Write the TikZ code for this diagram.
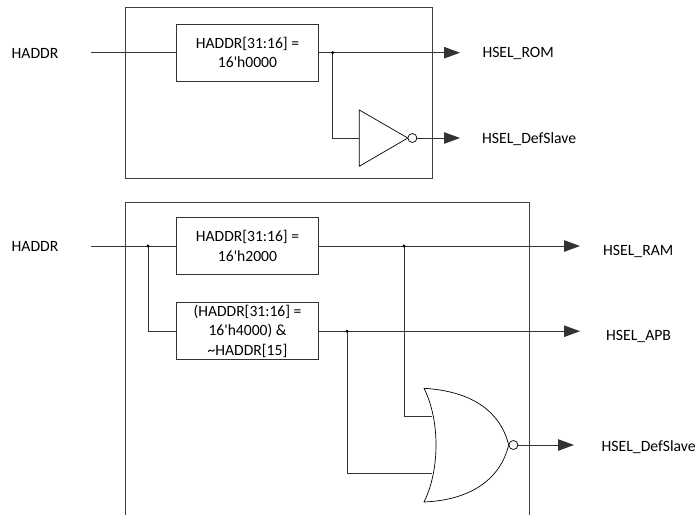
\documentclass[tikz,border=0pt]{standalone}
\usepackage{fontspec}
\setmainfont{Carlito}
\usetikzlibrary{arrows.meta}
\tikzset{
  wire/.style={black!80, line width=0.8pt},
  outwire/.style={wire, -{Triangle[length=16pt,width=11.5pt]}},
  frame/.style={black!75, line width=0.9pt},
  gate/.style={black, line width=0.7pt, line join=round},
  decodebox/.style={draw=black!80, line width=0.8pt, minimum width=142.4pt, minimum height=56.7pt, inner sep=0pt, align=center, font=\fontsize{15.6}{19.3}\selectfont},
  sig/.style={inner sep=0pt, anchor=base west, font=\fontsize{15.7}{18}\selectfont},
  bubble/.style={circle, draw=black, line width=0.7pt, fill=white, minimum size=9pt, inner sep=0pt}
}
\begin{document}
\begin{tikzpicture}[x=1pt,y=-1pt]
\useasboundingbox (0,0) rectangle (696,515);
\draw[frame] (125.7,7.4) rectangle (432.3,178);
\draw[frame] (125.7,515) -- (125.7,202) -- (529.3,202) -- (529.3,515);

\node[sig] (haddrA) at (11.5,58.3) {HADDR};
\node[sig] (haddrB) at (11.5,251) {HADDR};
\node[sig] (romlbl) at (482.3,57.6) {HSEL\_ROM};
\node[sig] (deflblA) at (482,143.3) {HSEL\_DefSlave};
\node[sig] (ramlbl) at (603,255) {HSEL\_RAM};
\node[sig] (apblbl) at (606,340.7) {HSEL\_APB};
\node[sig] (deflblB) at (601.5,451.7) {HSEL\_DefSlave};

\node[decodebox] (rombox) at (247.5,52.7) {HADDR[31:16] =\\16\textquotesingle h0000};
\node[decodebox] (rambox) at (247.5,246) {HADDR[31:16] =\\16\textquotesingle h2000};
\node[decodebox] (apbbox) at (247.5,331.2) {(HADDR[31:16] =\\16\textquotesingle h4000) \&\\\textasciitilde HADDR[15]};

\coordinate (inA) at (91,52.7);
\coordinate (inB) at (91,246);
\coordinate (romjoin) at (332.7,52.7);
\coordinate (romend) at (460,52.7);
\coordinate (invin) at (359.3,138);
\coordinate (invend) at (460,138);
\coordinate (inbjoin) at (148,246);
\coordinate (ramjoin) at (404,246);
\coordinate (ramend) at (580,246);
\coordinate (apbjoin) at (347,331.2);
\coordinate (apbend) at (580,331.2);
\coordinate (norinA) at (432.3,416.7);
\coordinate (norinB) at (432.3,473.7);
\coordinate (norend) at (574,445);

\draw[gate] (359.3,110) -- (407.8,138) -- (359.3,166.3) -- cycle;
\node[bubble] (invout) at (412.4,138) {};
\draw[gate] (424,388.3) .. controls (440,420) and (440,470) .. (424,502)
  .. controls (470,500) and (500,480) .. (508.7,445) .. controls (500,410) and (470,391) .. cycle;
\node[bubble] (norout) at (513.4,445) {};

\draw[wire] (inA) -- (rombox.west);
\draw[outwire] (rombox.east) -- (romend);
\draw[wire] (romjoin) |- (invin);
\draw[outwire] (invout.east) -- (invend);
\draw[wire] (inB) -- (rambox.west);
\draw[wire] (inbjoin) |- (apbbox.west);
\draw[outwire] (rambox.east) -- (ramend);
\draw[outwire] (apbbox.east) -- (apbend);
\draw[wire] (ramjoin) |- (norinA);
\draw[wire] (apbjoin) |- (norinB);
\draw[outwire] (norout.east) -- (norend);

\fill (romjoin) circle (1.7);
\fill (inbjoin) circle (1.7);
\fill (ramjoin) circle (1.7);
\fill (apbjoin) circle (1.7);
\end{tikzpicture}
\end{document}
